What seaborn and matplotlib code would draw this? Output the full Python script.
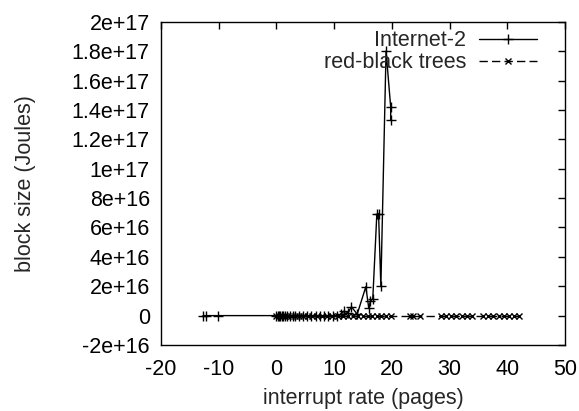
import numpy as np
import pandas as pd
import seaborn as sns
import matplotlib.pyplot as plt
from matplotlib.ticker import FuncFormatter, MultipleLocator

# Internet-2 (solid, '+')
inet_x = [-12.7, -12.2, -10.1, 0.0, 0.2, 0.4, 0.6, 0.9, 1.2, 1.5, 1.9, 2.3, 2.8,
          3.3, 4.0, 4.6, 5.3, 6.0, 6.8, 7.5, 8.3, 9.0, 9.8, 10.5, 11.2, 11.7,
          12.4, 13.0, 14.0, 15.5, 16.0, 16.3, 16.7, 17.4, 17.7, 18.1, 19.0,
          19.8, 19.8]
inet_y = [0, 0, 0, 0, 0, 0, 0, 0, 0, 0, 0, 0, 0,
          0, 0, 0, 0, 0, 0, 0, 0, 0, 0, 0, 0.1e16, 0.3e16,
          0.2e16, 0.6e16, 0.1e16, 1.97e16, 0.5e16, 1.0e16, 1.15e16, 6.9e16, 6.95e16, 2.0e16, 18.0e16,
          14.2e16, 13.3e16]

# red-black trees (dashed, 'x')
rbt_x = [0.0, 0.5, 1.0, 1.5, 2.0, 2.6, 3.2, 3.9, 4.6, 5.4, 6.2, 7.0, 7.9, 8.8,
         9.7, 10.6, 11.5, 12.4, 13.3, 14.2, 15.0, 15.8, 16.6, 17.4, 18.2, 19.0,
         19.8, 23.2, 23.7, 24.8, 28.5, 29.4, 30.3, 31.2, 32.1, 33.0, 33.9, 35.8,
         36.7, 37.6, 38.5, 39.4, 40.3, 41.2, 42.0]
rbt_y = [0] * len(rbt_x)

df_inet = pd.DataFrame({'x': inet_x, 'y': inet_y})
df_rbt = pd.DataFrame({'x': rbt_x, 'y': rbt_y})

sns.set_style('white')
plt.rcParams['font.family'] = ['Liberation Sans', 'DejaVu Sans']
plt.rcParams['axes.unicode_minus'] = False

fig = plt.figure(figsize=(5.79, 4.11), dpi=100)
ax = fig.add_axes([0.278, 0.1606, 0.6978, 0.7864])

sns.lineplot(data=df_inet, x='x', y='y', ax=ax, sort=False, estimator=None,
             color='black', lw=1, marker='+', markersize=7, mew=1,
             markeredgecolor='black', label='Internet-2')
sns.lineplot(data=df_rbt, x='x', y='y', ax=ax, sort=False, estimator=None,
             color='black', lw=1, dashes=False, linestyle=(0, (6, 3)),
             marker='x', markersize=4, mew=1, markeredgecolor='black',
             label='red-black trees')

ax.set_xlim(-20, 50)
ax.set_ylim(-2e16, 2e17)
ax.xaxis.set_major_locator(MultipleLocator(10))
ax.yaxis.set_major_locator(MultipleLocator(2e16))
ax.yaxis.set_major_formatter(FuncFormatter(lambda v, p: '%g' % round(v, -14)))
ax.tick_params(direction='in', length=5, width=1, top=True, right=True,
               labelsize=15.5, colors='black')
ax.tick_params(axis='x', pad=10)
ax.tick_params(axis='y', pad=8)
for s in ax.spines.values():
    s.set_color('black')
    s.set_linewidth(1)

ax.set_xlabel('interrupt rate (pages)', fontsize=15.5, labelpad=6)
ax.set_ylabel('block size (Joules)', fontsize=15.5, labelpad=26)

ax.legend(loc='upper right', bbox_to_anchor=(0.953, 1.0), frameon=False,
          markerfirst=False, fontsize=15.5, handlelength=2.7,
          handletextpad=0.6, borderaxespad=0, labelspacing=0.05)

plt.savefig('out.png', dpi=100)
plt.close()
